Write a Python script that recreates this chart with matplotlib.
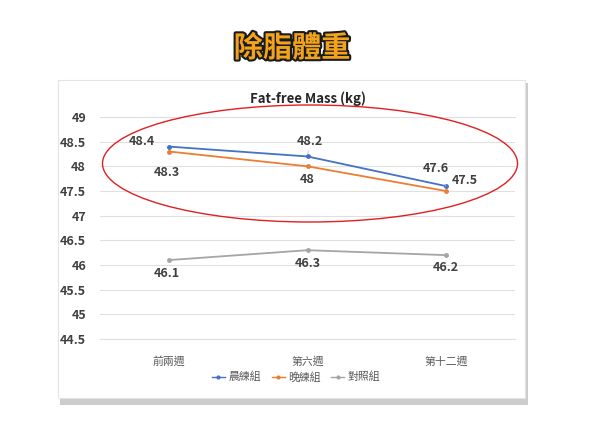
import matplotlib
matplotlib.use("Agg")
import matplotlib.pyplot as plt
import matplotlib.patheffects as pe
from matplotlib.patches import Ellipse, Rectangle

plt.rcParams['font.family'] = ['Noto Sans CJK TC', 'DejaVu Sans']

weeks = ["前兩週", "第六週", "第十二週"]
series_names = ["晨練組", "晚練組", "對照組"]
morning = [48.4, 48.2, 47.6]
evening = [48.3, 48.0, 47.5]
control = [46.1, 46.3, 46.2]
y_ticks = [44.5, 45, 45.5, 46, 46.5, 47, 47.5, 48, 48.5, 49]

colors = ["#4472C4", "#ED7D31", "#A5A5A5"]
# label offsets in pixels for each point (dx, dy), leader line flag
offsets = [
    [(-27, 5, True), (2, 15, True), (-10, 18, True)],
    [(-2, -21, True), (0, -13, False), (19, 10, False)],
    [(-2, -13, False), (0, -13, False), (0, -12, False)],
]

fig = plt.figure(figsize=(6, 4.38), dpi=100)

# chart panel with a soft shadow
W, H = 600, 438
fig.patches.append(Rectangle((60 / W, 1 - 405 / H), 468 / W, 322 / H, transform=fig.transFigure,
                             facecolor="#CCCCCC", edgecolor="none", zorder=0))
fig.patches.append(Rectangle((58 / W, 1 - 398 / H), 467 / W, 318 / H, transform=fig.transFigure,
                             facecolor="white", edgecolor="#E4E4E4", lw=0.8, zorder=0))

ax = fig.add_axes([100 / W, 1 - 339 / H, 415 / W, 222 / H])
ax.set_facecolor("none")
ax.set_zorder(2)

x = list(range(len(weeks)))
for vals, c, name, offs in zip([morning, evening, control], colors, series_names, offsets):
    ax.plot(x, vals, color=c, lw=1.3, marker="o", markersize=2.5, label=name, zorder=3)
    for xi, v, (dx, dy, lead) in zip(x, vals, offs):
        arrow = dict(arrowstyle="-", color="#BFBFBF", lw=0.6, shrinkA=6, shrinkB=2) if lead else None
        ax.annotate(f"{v:g}", (xi, v), xytext=(dx, dy), textcoords="offset pixels",
                    ha="center", va="center", fontsize=9, fontweight="bold", color="#404040",
                    arrowprops=arrow, zorder=4)

ax.set_xlim(-0.5, 2.5)
ax.set_ylim(44.5, 49)
ax.set_yticks(y_ticks)
ax.set_yticklabels([f"{t:g}" for t in y_ticks], fontsize=9, fontweight="bold", color="#404040")
ax.set_xticks(x)
ax.set_xticklabels(weeks, fontsize=7.8, color="#595959")
ax.tick_params(axis="both", length=0)
ax.tick_params(axis="y", pad=10)
ax.tick_params(axis="x", pad=12)
ax.grid(axis="y", color="#E0E0E0", lw=0.8)
ax.axhline(y_ticks[0], color="#E0E0E0", lw=0.8, clip_on=False, zorder=1)
ax.axhline(y_ticks[-1], color="#E0E0E0", lw=0.8, clip_on=False, zorder=1)
for s in ax.spines.values():
    s.set_visible(False)

ax.set_title("Fat-free Mass (kg)", fontsize=9.5, fontweight="bold", color="#262626", pad=10)

leg = fig.legend(loc="center", bbox_to_anchor=(296 / W, 1 - 377 / H), ncol=3, frameon=False,
                 fontsize=7.8, handlelength=1.2, handletextpad=0.3, columnspacing=1.0)
for t in leg.get_texts():
    t.set_color("#595959")
for ln in leg.get_lines():
    ln.set_linewidth(1.0)
    ln.set_markersize(2)

# red ellipse highlighting the two training groups
fig.patches.append(Ellipse((310 / W, 1 - 163.5 / H), 415 / W, 117 / H, transform=fig.transFigure,
                           facecolor="none", edgecolor="#E02020", lw=1.0, zorder=5))

fig.text(292 / W, 1 - 48 / H, "除脂體重", ha="center", va="center", fontsize=21,
         fontweight="bold", color="#F2A31B",
         path_effects=[pe.withStroke(linewidth=3, foreground="#1A1A1A")])

fig.savefig("out.png", dpi=100)
